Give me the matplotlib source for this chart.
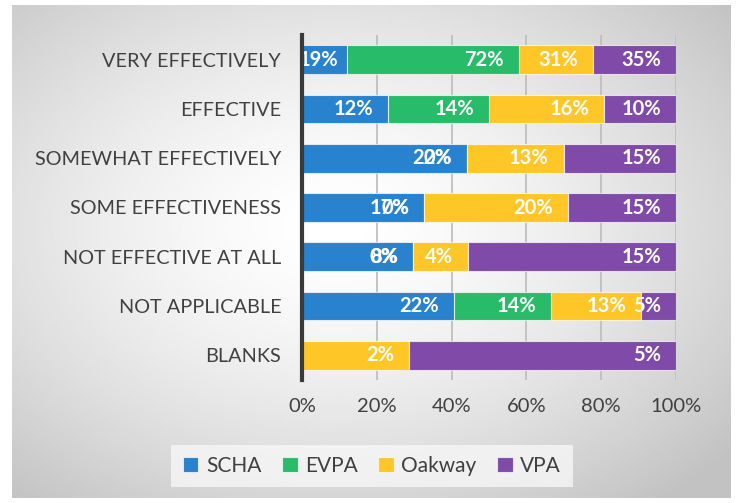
import numpy as np
import matplotlib
matplotlib.use("Agg")
import matplotlib.pyplot as plt

categories = ["VERY EFFECTIVELY", "EFFECTIVE", "SOMEWHAT EFFECTIVELY",
              "SOME EFFECTIVENESS", "NOT EFFECTIVE AT ALL", "NOT APPLICABLE", "BLANKS"]
series = ["SCHA", "EVPA", "Oakway", "VPA"]
# percentages as printed on the bars (None = no answer given)
scha = [19, 12, 22, 17, 8, 22, None]
evpa = [72, 14, 0, 0, 0, 14, None]
oakway = [31, 16, 13, 20, 4, 13, 2]
vpa = [35, 10, 15, 15, 15, 5, 5]
colors = ["#2882CD", "#28BC6A", "#FFC628", "#804BA8"]
xticks = [0, 20, 40, 60, 80, 100]

W, H = 739, 503
plt.rcParams['font.family'] = ['Lato', 'DejaVu Sans']
txt = '#404040'

fig = plt.figure(figsize=(W / 100, H / 100), dpi=100)

# background box with soft radial gradient
bg = fig.add_axes([0, 0, 1, 1], zorder=-10)
bg.set_xlim(0, W)
bg.set_ylim(H, 0)
bg.axis('off')
gx, gy = np.meshgrid(np.linspace(0, 1, 300), np.linspace(0, 1, 200))
r = np.sqrt(((gx - 0.45) / 0.72) ** 2 + ((gy - 0.45) / 0.72) ** 2)
shade = 1 - 0.24 * np.clip(r, 0, 1) ** 1.5
bg.imshow(shade, cmap='gray', vmin=0, vmax=1, extent=[12, 731, 498, 5],
          aspect='auto', interpolation='bilinear')

x0, x1, ytop, ybot = 302, 676, 35, 380
ax = fig.add_axes([x0 / W, 1 - ybot / H, (x1 - x0) / W, (ybot - ytop) / H])
ax.patch.set_alpha(0)

data = [scha, evpa, oakway, vpa]
vals = np.array([[0 if v is None else v for v in s] for s in data], dtype=float)
totals = vals.sum(axis=0)
shares = vals / totals * 100
y = np.arange(len(categories))

left = np.zeros(len(categories))
for i, name in enumerate(series):
    ax.barh(y, shares[i], left=left, height=0.58, color=colors[i],
            edgecolor=(1, 1, 1, 0.7), linewidth=0.8, label=name, zorder=3)
    left = left + shares[i]
    for j in range(len(categories)):
        if data[i][j] is None:
            continue
        end = left[j]
        # labels sit at the inside end of each segment
        if end < 14:
            ax.annotate(f"{data[i][j]}%", (0, y[j]), xytext=(-3, 0), textcoords='offset pixels',
                        ha='left', va='center', color='white', fontsize=14.5,
                        fontweight='bold', zorder=5, annotation_clip=False)
        else:
            ax.annotate(f"{data[i][j]}%", (end, y[j]), xytext=(-15, 0), textcoords='offset pixels',
                        ha='right', va='center', color='white', fontsize=14.5,
                        fontweight='bold', zorder=5)

ax.set_xlim(0, 100)
ax.set_ylim(len(categories) - 0.5, -0.5)
ax.set_xticks(xticks)
ax.set_xticklabels([f"{t}%" for t in xticks], fontsize=14.5, color=txt)
ax.set_yticks(y)
ax.set_yticklabels(categories, fontsize=14.3, color=txt)
ax.tick_params(length=0)
ax.tick_params(axis='x', pad=13)
ax.tick_params(axis='y', pad=15)
ax.grid(axis='x', color='#bfbfbf', linewidth=1.3, zorder=0)
for s in ['top', 'right', 'bottom']:
    ax.spines[s].set_visible(False)
ax.spines['left'].set_color('#3a3a3a')
ax.spines['left'].set_linewidth(3)
ax.spines['left'].set_zorder(6)

leg = ax.legend(loc='center', bbox_to_anchor=(372 / W, 1 - 466 / H), bbox_transform=fig.transFigure,
                ncol=4, fontsize=15, frameon=True, fancybox=False, handlelength=0.75,
                handleheight=0.75, handletextpad=0.35, columnspacing=1.0, borderpad=0.55)
leg.get_frame().set_facecolor('#f7f7f7')
leg.get_frame().set_edgecolor('none')
leg.get_frame().set_alpha(0.8)
for t in leg.get_texts():
    t.set_color(txt)

fig.savefig("out.png", dpi=100)
